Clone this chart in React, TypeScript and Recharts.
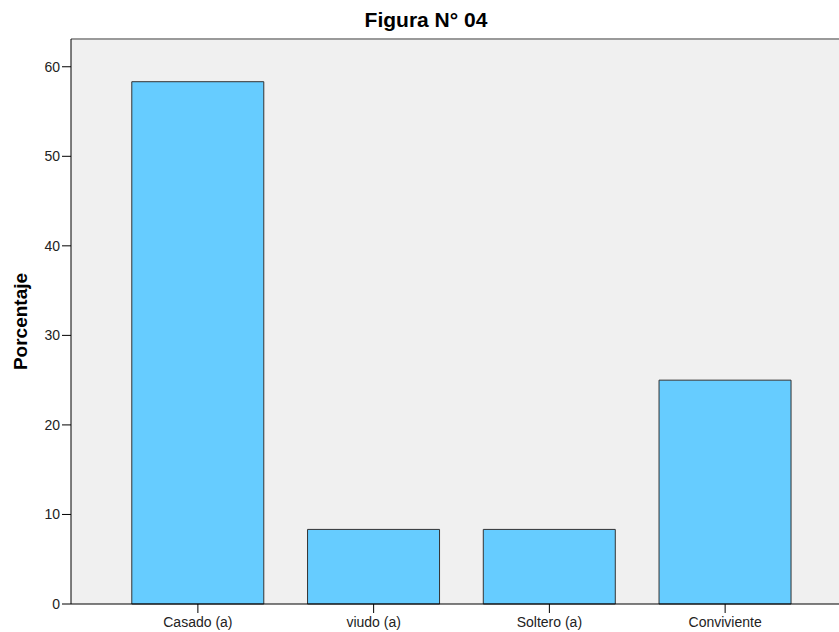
import { BarChart, Bar, XAxis, YAxis, CartesianGrid, ReferenceLine } from 'recharts'

const categories = ['Casado (a)', 'viudo (a)', 'Soltero (a)', 'Conviviente']
const percentages = [58.33, 8.33, 8.33, 25.0]
const yTicks = [0, 10, 20, 30, 40, 50, 60]

const data = categories.map((name, i) => ({ name, value: percentages[i] }))

const FONT = '"Liberation Sans", Arial, sans-serif'

export default function App() {
  return (
    <div style={{ position: 'absolute', left: 0, top: 0, width: 839, height: 632, background: '#fff' }}>
      <div
        style={{
          position: 'absolute',
          left: 0,
          width: 852,
          top: 8,
          lineHeight: '24px',
          textAlign: 'center',
          fontFamily: FONT,
          fontWeight: 'bold',
          fontSize: 21,
          color: '#000',
        }}
      >
        Figura N° 04
      </div>
      <BarChart
        width={839}
        height={632}
        data={data}
        margin={{ top: 39, right: 0, bottom: 0, left: 0 }}
        barCategoryGap="12.4%"
      >
        <CartesianGrid fill="#f0f0f0" horizontal={false} vertical={false} />
        <ReferenceLine y={63.1} stroke="#9a9a9a" strokeWidth={2} />
        <XAxis
          dataKey="name"
          height={28}
          padding={{ left: 39, right: 26 }}
          axisLine={{ stroke: '#000' }}
          tickLine={{ stroke: '#000' }}
          tickSize={9}
          tick={{ fill: '#222', fontSize: 14, fontFamily: FONT, dy: 2 }}
          interval={0}
        />
        <YAxis
          width={71}
          domain={[0, 63.1]}
          ticks={yTicks}
          axisLine={{ stroke: '#000' }}
          tickLine={{ stroke: '#000' }}
          tickSize={9}
          tick={{ fill: '#222', fontSize: 14, fontFamily: FONT }}
          label={{
            value: 'Porcentaje',
            angle: -90,
            position: 'insideLeft',
            offset: 20,
            style: { fontFamily: FONT, fontWeight: 'bold', fontSize: 19, fill: '#000', textAnchor: 'middle' },
          }}
        />
        <Bar dataKey="value" fill="#66ccff" stroke="#333" strokeWidth={1} isAnimationActive={false} />
      </BarChart>
    </div>
  )
}
